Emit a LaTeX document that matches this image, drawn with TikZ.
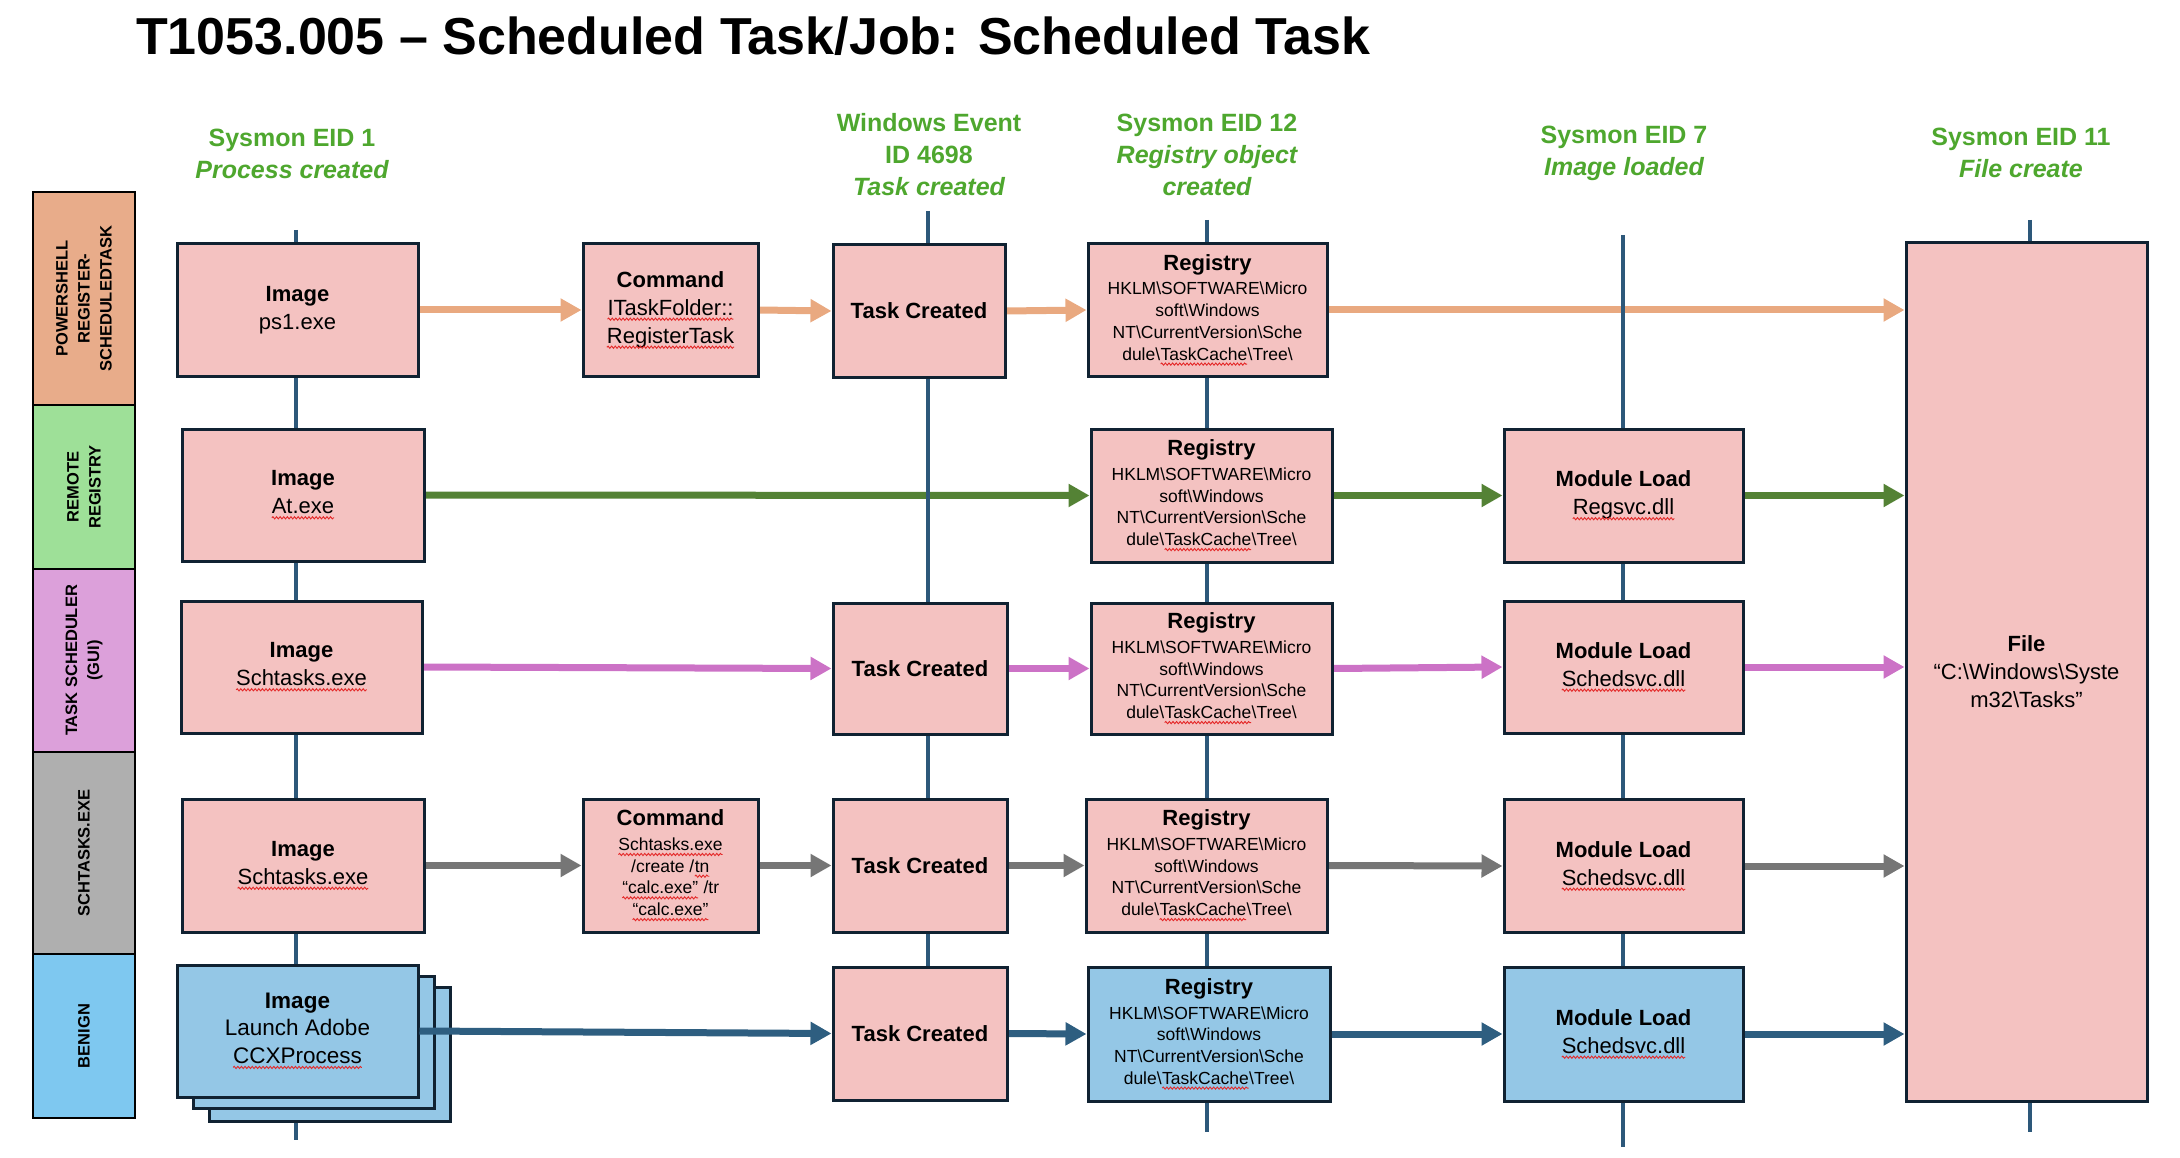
\documentclass[tikz,border=0pt]{standalone}
\usepackage{fontspec}
\setmainfont{Liberation Sans}
\usetikzlibrary{arrows.meta,decorations.pathmorphing,backgrounds}
\definecolor{boxline}{RGB}{16,34,50}
\definecolor{pinkbox}{RGB}{244,194,193}
\definecolor{bluebox}{RGB}{148,199,230}
\definecolor{hdrgreen}{RGB}{78,167,46}
\definecolor{vlinec}{RGB}{45,88,122}
\definecolor{arrOrange}{RGB}{233,169,128}
\definecolor{arrGreen}{RGB}{84,130,53}
\definecolor{arrPink}{RGB}{204,114,198}
\definecolor{arrGray}{RGB}{118,118,118}
\definecolor{arrBlue}{RGB}{46,94,128}
\definecolor{laneOrange}{RGB}{232,172,138}
\definecolor{laneGreen}{RGB}{158,224,152}
\definecolor{lanePurple}{RGB}{220,160,218}
\definecolor{laneGray}{RGB}{175,175,175}
\definecolor{laneBlue}{RGB}{126,200,240}
\definecolor{squigred}{RGB}{228,40,40}
\newcommand\sq[1]{\tikz[x=1pt,y=1pt,baseline=(sqt.base)]{\node[inner sep=0pt,outer sep=0pt,minimum width=0pt,minimum height=0pt,draw=none,fill=none,rotate=0,font={},anchor=base](sqt) at (0,0){#1};\draw[squigred,line width=0.9pt,decorate,decoration={snake,amplitude=1.1pt,segment length=3.6pt}] ([yshift=-4pt]sqt.base west) -- ([yshift=-4pt]sqt.base east);}}
\newcommand\bsl{\textbackslash}
\newcommand\regtext{{\fontsize{22}{22}\selectfont\bfseries Registry}\\[3pt]HKLM\bsl SOFTWARE\bsl Micro\\soft\bsl Windows\\NT\bsl CurrentVersion\bsl Sche\\dule\bsl\sq{TaskCache}\bsl Tree\bsl}
\begin{document}
\begin{tikzpicture}[x=1pt,y=-1pt,
  box/.style={draw=boxline,line width=3pt,fill=pinkbox,inner sep=2pt,align=center,text=black,font=\fontsize{22}{28}\selectfont},
  bbox/.style={box,fill=bluebox},
  regbox/.style={box,font=\fontsize{17.5}{21.7}\selectfont},
  bregbox/.style={regbox,fill=bluebox},
  lane/.style={draw=black,line width=2.5pt,rotate=90,minimum height=102pt,inner sep=0pt,align=center,font=\bfseries\fontsize{16.5}{22}\selectfont},
  hdr/.style={text=hdrgreen,align=center,font=\bfseries\fontsize{25}{32}\selectfont},
  vline/.style={draw=vlinec,line width=3.5pt},
  arr/.style={line width=7pt,-{Triangle[length=21pt,width=22pt]}}
]
\useasboundingbox (0,0) rectangle (2180,1158);

% title
\node[anchor=base west,inner sep=0pt,font=\bfseries\fontsize{52}{60}\selectfont] (title) at (136,55) {T1053.005 – Scheduled Task/Job: Scheduled Task};

% column headers
\node[hdr] (h1) at (292,154) {Sysmon EID 1\\{\itshape Process created}};
\node[hdr] (h2) at (929,155) {Windows Event\\ID 4698\\{\itshape Task created}};
\node[hdr] (h3) at (1207,155) {Sysmon EID 12\\{\itshape Registry object}\\{\itshape created}};
\node[hdr] (h4) at (1624,153) {Sysmon EID 7\\{\itshape Image loaded}};
\node[hdr] (h5) at (2021,153) {Sysmon EID 11\\{\itshape File create}};

% lanes
\node[lane,fill=laneOrange,minimum width=213pt] (lane1) at (84,298.5) {POWERSHELL\\REGISTER-\\SCHEDULEDTASK};
\node[lane,fill=laneGreen,minimum width=164pt] (lane2) at (84,487) {REMOTE\\REGISTRY};
\node[lane,fill=lanePurple,minimum width=183pt] (lane3) at (84,660.5) {TASK SCHEDULER\\(GUI)};
\node[lane,fill=laneGray,minimum width=202pt] (lane4) at (84,853) {SCHTASKS.EXE};
\node[lane,fill=laneBlue,minimum width=164pt] (lane5) at (84,1036) {BENIGN};

% column line end points
\coordinate (c1t) at (296,230);  \coordinate (c1b) at (296,1140);
\coordinate (c2t) at (928,211);  \coordinate (c2b) at (928,1030);
\coordinate (c3t) at (1207,220); \coordinate (c3b) at (1207,1132);
\coordinate (c4t) at (1623,235); \coordinate (c4b) at (1623,1147);
\coordinate (c5t) at (2030,220); \coordinate (c5b) at (2030,1132);

% file box
\node[box,minimum width=241pt,minimum height=858pt] (file) at (2026.5,672) {\textbf{File}\\“C:\bsl Windows\bsl Syste\\m32\bsl Tasks”};

% row 1
\node[box,minimum width=241pt,minimum height=133pt] (r1img) at (297.5,310) {\textbf{Image}\\ps1.exe};
\node[box,minimum width=175pt,minimum height=133pt] (r1cmd) at (670.5,310) {\textbf{Command}\\\sq{ITaskFolder::}\\\sq{RegisterTask}};
\node[box,minimum width=172pt,minimum height=132pt] (r1task) at (919,311) {\textbf{Task Created}};
\node[regbox,minimum width=239pt,minimum height=133pt] (r1reg) at (1207.5,310) {\regtext};

% row 2
\node[box,minimum width=242pt,minimum height=132pt] (r2img) at (303,495) {\textbf{Image}\\\sq{At.exe}};
\node[regbox,minimum width=241pt,minimum height=133pt] (r2reg) at (1211.5,495.5) {\regtext};
\node[box,minimum width=239pt,minimum height=133pt] (r2mod) at (1623.5,495.5) {\textbf{Module Load}\\\sq{Regsvc.dll}};

% row 3
\node[box,minimum width=241pt,minimum height=132pt] (r3img) at (301.5,667) {\textbf{Image}\\\sq{Schtasks.exe}};
\node[box,minimum width=174pt,minimum height=131pt] (r3task) at (920,668.5) {\textbf{Task Created}};
\node[regbox,minimum width=241pt,minimum height=131pt] (r3reg) at (1211.5,668.5) {\regtext};
\node[box,minimum width=239pt,minimum height=132pt] (r3mod) at (1623.5,667) {\textbf{Module Load}\\\sq{Schedsvc.dll}};

% row 4
\node[box,minimum width=242pt,minimum height=133pt] (r4img) at (303,865.5) {\textbf{Image}\\\sq{Schtasks.exe}};
\node[regbox,minimum width=175pt,minimum height=133pt] (r4cmd) at (670.5,865.5) {{\fontsize{22}{22}\selectfont\bfseries Command}\\[3pt]\sq{Schtasks.exe}\\/create /\sq{tn}\\\sq{“calc.exe”} /tr\\\sq{“calc.exe”}};
\node[box,minimum width=174pt,minimum height=133pt] (r4task) at (920,865.5) {\textbf{Task Created}};
\node[regbox,minimum width=241pt,minimum height=133pt] (r4reg) at (1206.5,865.5) {\regtext};
\node[box,minimum width=239pt,minimum height=133pt] (r4mod) at (1623.5,866) {\textbf{Module Load}\\\sq{Schedsvc.dll}};

% row 5
\node[bbox,minimum width=241pt,minimum height=134pt] (r5back2) at (329.5,1054) {};
\node[bbox,minimum width=241pt,minimum height=132pt] (r5back1) at (313.5,1042) {};
\node[bbox,minimum width=241pt,minimum height=132pt,font=\fontsize{22.5}{27.5}\selectfont] (r5img) at (297.5,1031) {\textbf{Image}\\Launch Adobe\\\sq{CCXProcess}};
\node[box,minimum width=174pt,minimum height=133pt] (r5task) at (920,1033.5) {\textbf{Task Created}};
\node[bregbox,minimum width=242pt,minimum height=134pt] (r5reg) at (1209,1034) {\regtext};
\node[bbox,minimum width=239pt,minimum height=134pt] (r5mod) at (1623.5,1034) {\textbf{Module Load}\\\sq{Schedsvc.dll}};

\begin{pgfonlayer}{background}
  % arrows
  \draw[arr,arrOrange] (r1img.east) -- (r1cmd.west);
  \draw[arr,arrOrange] (r1cmd.east) -- (r1task.west);
  \draw[arr,arrOrange] (r1task.east) -- (r1reg.west);
  \draw[arr,arrOrange] (r1reg.east) -- (r1reg.east -| file.west);
  \draw[arr,arrGreen] (r2img.east) -- (r2reg.west);
  \draw[arr,arrGreen] (r2reg.east) -- (r2mod.west);
  \draw[arr,arrGreen] (r2mod.east) -- (r2mod.east -| file.west);
  \draw[arr,arrPink] (r3img.east) -- (r3task.west);
  \draw[arr,arrPink] (r3task.east) -- (r3reg.west);
  \draw[arr,arrPink] (r3reg.east) -- (r3mod.west);
  \draw[arr,arrPink] (r3mod.east) -- (r3mod.east -| file.west);
  \draw[arr,arrGray] (r4img.east) -- (r4cmd.west);
  \draw[arr,arrGray] (r4cmd.east) -- (r4task.west);
  \draw[arr,arrGray] (r4task.east) -- (r4reg.west);
  \draw[arr,arrGray] (r4reg.east) -- (r4mod.west);
  \draw[arr,arrGray] (r4mod.east) -- (r4mod.east -| file.west);
  \draw[arr,arrBlue] (r5task.east) -- (r5reg.west);
  \draw[arr,arrBlue] (r5reg.east) -- (r5mod.west);
  \draw[arr,arrBlue] (r5mod.east) -- (r5mod.east -| file.west);
  % column lines
  \draw[vline] (c1t) -- (c1b);
  \draw[vline] (c2t) -- (c2b);
  \draw[vline] (c3t) -- (c3b);
  \draw[vline] (c4t) -- (c4b);
  \draw[vline] (c5t) -- (c5b);
\end{pgfonlayer}
\draw[arr,arrBlue] (r5img.east) -- (r5task.west);
\end{tikzpicture}
\end{document}
